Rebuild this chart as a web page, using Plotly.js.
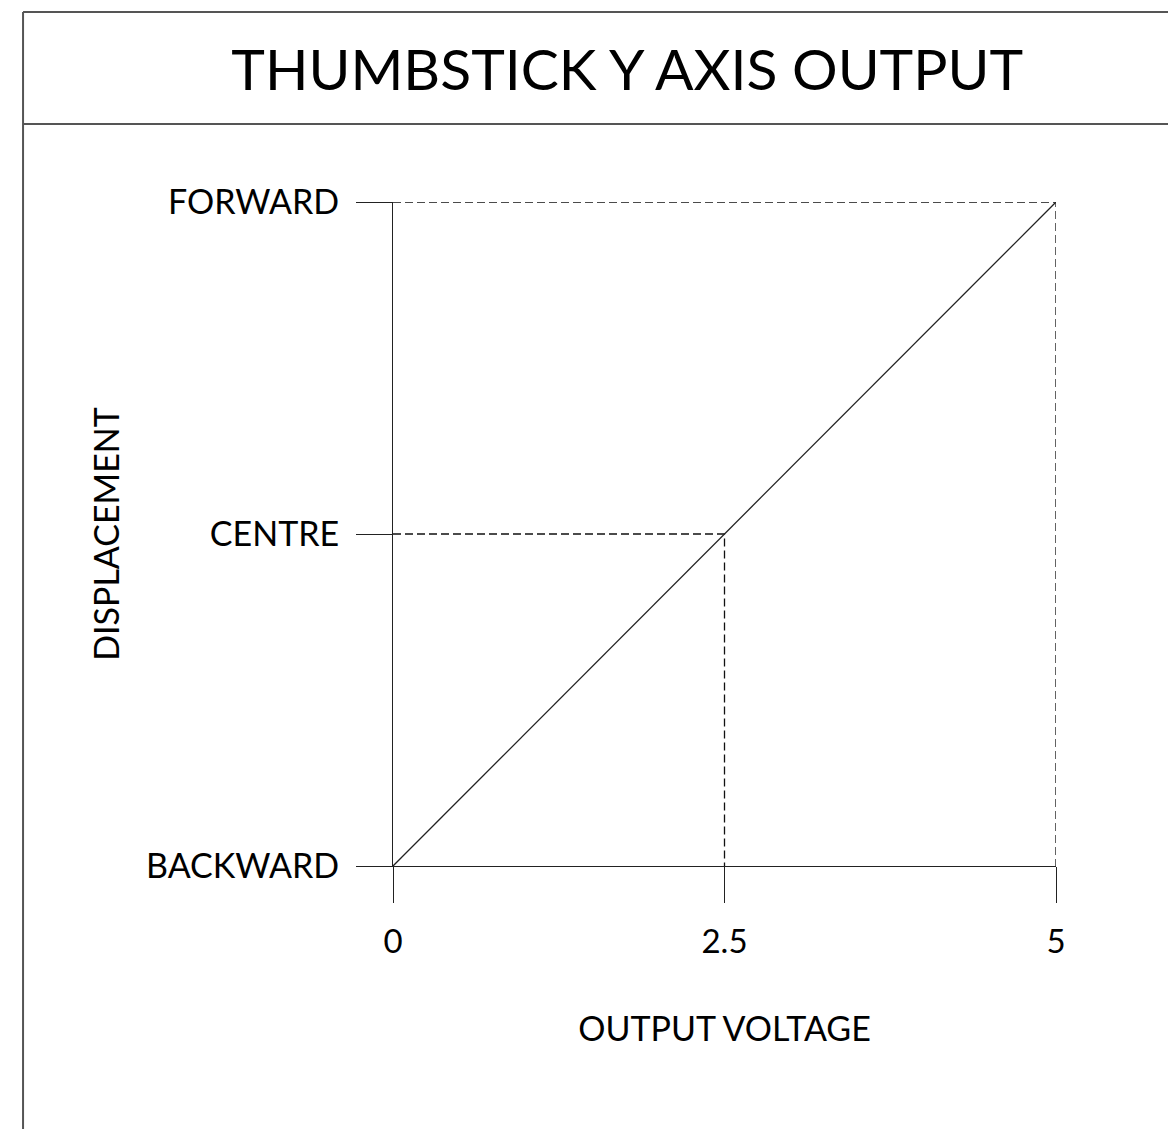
<!DOCTYPE html>
<html>
<head>
<meta charset="utf-8">
<script src="https://cdn.plot.ly/plotly-3.0.1.min.js"></script>
<style>html,body{margin:0;padding:0;background:#fff;}#chart{width:1168px;height:1129px;}</style>
</head>
<body>
<div id="chart"></div>
<script>
// Data
const voltage = [0, 5];
const displacement = [0, 2];
const yTickVals = [0, 1, 2];
const yTickText = ["BACKWARD", "CENTRE", "FORWARD"];
const xTickVals = [0, 2.5, 5];
const xTickText = ["0", "2.5", "5"];
const centreGuideX = [0, 2.5, 2.5];
const centreGuideY = [1, 1, 0];
const forwardGuideX = [0, 5, 5];
const forwardGuideY = [2, 2, 0];

const FONT = "Lato, 'Open Sans', sans-serif";
const lineCol = "#222";

const traces = [
  {x: centreGuideX, y: centreGuideY, mode: "lines", line: {color: "#111", width: 1.3, dash: "8px,4px"}, hoverinfo: "skip"},
  {x: forwardGuideX, y: forwardGuideY, mode: "lines", line: {color: "#111", width: 1.3, dash: "8px,4px"}, hoverinfo: "skip"},
  {x: voltage, y: displacement, mode: "lines", line: {color: lineCol, width: 1.3}}
];

const borderCol = "#555";
const layout = {
  width: 1168, height: 1129,
  margin: {l: 393, r: 112, t: 202, b: 263},
  paper_bgcolor: "#fff", plot_bgcolor: "#fff",
  showlegend: false,
  font: {family: FONT, color: "#000"},
  title: {text: "THUMBSTICK Y AXIS OUTPUT", x: 0.537, xanchor: "center", y: 0.938, yanchor: "middle",
          font: {family: FONT, size: 57, color: "#000"}},
  xaxis: {
    range: [0, 5], tickvals: xTickVals, ticktext: xTickText,
    showline: true, linecolor: lineCol, linewidth: 1,
    ticks: "outside", ticklen: 36, tickcolor: lineCol, tickwidth: 1,
    ticklabelstandoff: 10,
    showgrid: false, zeroline: false, fixedrange: true,
    tickfont: {family: FONT, size: 33, color: "#000"},
    title: {text: "OUTPUT VOLTAGE", standoff: 58, font: {family: FONT, size: 34, color: "#000"}}
  },
  yaxis: {
    range: [0, 2], tickvals: yTickVals, ticktext: yTickText,
    showline: true, linecolor: lineCol, linewidth: 1,
    ticks: "outside", ticklen: 36, tickcolor: lineCol, tickwidth: 1,
    ticklabelstandoff: 10,
    showgrid: false, zeroline: false, fixedrange: true,
    tickfont: {family: FONT, size: 34, color: "#000"},
    title: {text: "DISPLACEMENT", standoff: 16, font: {family: FONT, size: 34, color: "#000"}}
  },
  shapes: [
    {type: "line", xref: "paper", yref: "paper", x0: -0.558, x1: -0.558, y0: 1.286, y1: -0.45, line: {color: borderCol, width: 2}},
    {type: "line", xref: "paper", yref: "paper", x0: -0.558, x1: 1.3, y0: 1.286, y1: 1.286, line: {color: borderCol, width: 2}},
    {type: "line", xref: "paper", yref: "paper", x0: -0.558, x1: 1.3, y0: 1.1175, y1: 1.1175, line: {color: borderCol, width: 2}}
  ]
};

Plotly.newPlot("chart", traces, layout, {displayModeBar: false, staticPlot: true});
</script>
</body>
</html>
